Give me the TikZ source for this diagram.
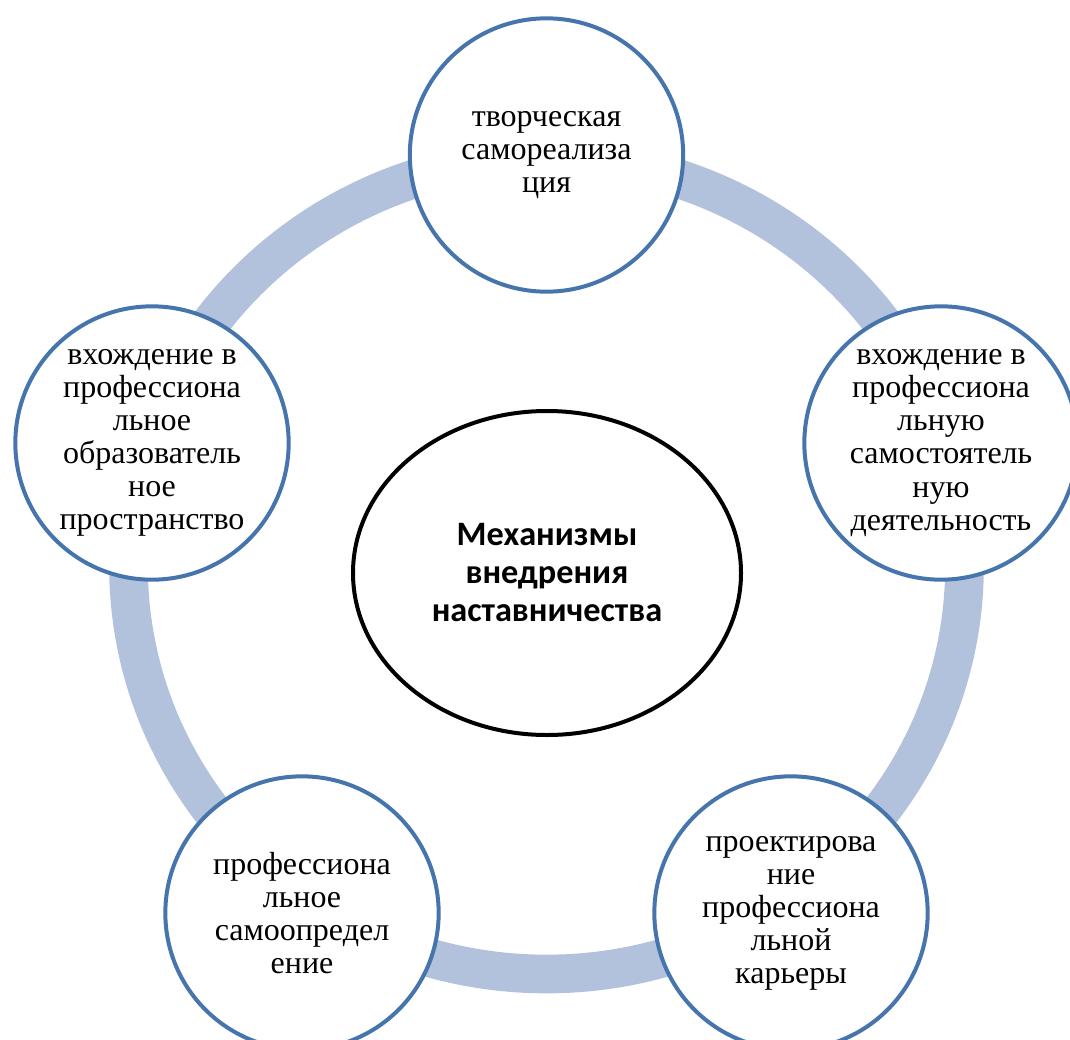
\documentclass[tikz,border=0pt]{standalone}
\usepackage{fontspec}
\setmainfont{Liberation Serif}
\newfontfamily\headfont{Carlito}
\usetikzlibrary{shapes.geometric}
\definecolor{ringblue}{RGB}{178,193,220}
\definecolor{edgeblue}{RGB}{70,116,172}

\begin{document}
\begin{tikzpicture} [x=0.75pt, y=-0.75pt,
  ring/.style={ringblue, line width=29pt},
  stage/.style={circle, draw=edgeblue, line width=3pt, fill=white, minimum size=205pt, inner sep=0pt, align=center, font=\fontsize{24}{24.8}\selectfont},
  core/.style={ellipse, draw=black, line width=3pt, fill=white, minimum width=291pt, minimum height=243pt, inner sep=0pt, align=center, font=\headfont\bfseries\fontsize{25.7}{28.5}\selectfont}]
\def\ringradx{313.5pt};
\def\ringrady{306pt};
\useasboundingbox (0,0) rectangle (1070,1039);
\clip (0,0) rectangle (1070,1039);
\coordinate (O) at (546.5,566);
% ring behind the circles
\draw [ring] (O) ellipse [x radius=\ringradx, y radius=\ringrady];
\node (M) [core] at (547,573) {Механизмы\\внедрения\\наставничества};
\node (A) [stage] at (546.5,155) {творческая\\самореализа\\ция};
\node (B) [stage] at (941,443) {вхождение в\\профессиона\\льную\\самостоятель\\ную\\деятельность};
\node (C) [stage] at (791,913) {проектирова\\ние\\профессиона\\льной\\карьеры};
\node (D) [stage] at (302,913) {профессиона\\льное\\самоопредел\\ение};
\node (E) [stage] at (152,443) {вхождение в\\профессиона\\льное\\образователь\\ное\\пространство};
\end{tikzpicture}
\end{document}
